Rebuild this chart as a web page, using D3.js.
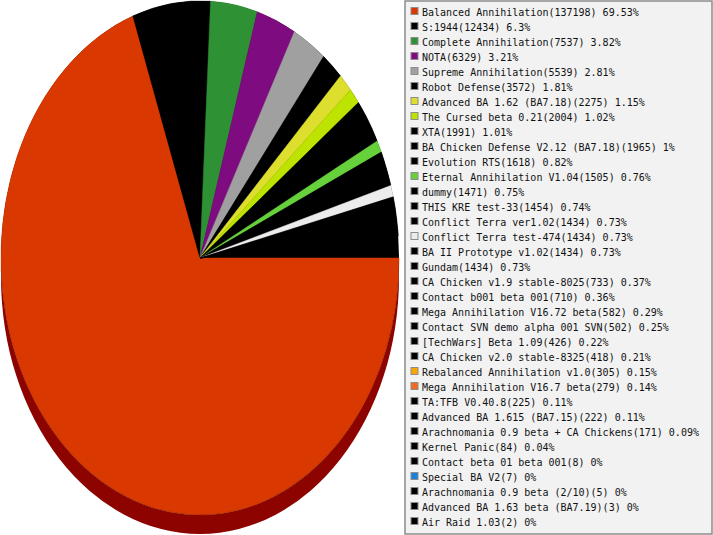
<!DOCTYPE html>
<html>
<head>
<meta charset="utf-8">
<script src="https://cdn.jsdelivr.net/npm/d3@7"></script>
<style>
  body { margin: 0; background: #fff; }
  svg { display: block; }
</style>
</head>
<body>
<div class="graph"></div>
<script>
// games and how many times each was played
const games = [
    "Balanced Annihilation", "S:1944", "Complete Annihilation", "NOTA",
    "Supreme Annihilation", "Robot Defense", "Advanced BA 1.62 (BA7.18)",
    "The Cursed beta 0.21", "XTA", "BA Chicken Defense V2.12 (BA7.18)",
    "Evolution RTS", "Eternal Annihilation V1.04", "dummy", "THIS KRE test-33",
    "Conflict Terra ver1.02", "Conflict Terra test-474", "BA II Prototype v1.02",
    "Gundam", "CA Chicken v1.9 stable-8025", "Contact b001 beta 001",
    "Mega Annihilation V16.72 beta", "Contact SVN demo alpha 001 SVN",
    "[TechWars] Beta 1.09", "CA Chicken v2.0 stable-8325",
    "Rebalanced Annihilation v1.0", "Mega Annihilation V16.7 beta",
    "TA:TFB V0.40.8", "Advanced BA 1.615 (BA7.15)",
    "Arachnomania 0.9 beta + CA Chickens", "Kernel Panic",
    "Contact beta 01 beta 001", "Special BA V2", "Arachnomania 0.9 beta (2/10)",
    "Advanced BA 1.63 beta (BA7.19)", "Air Raid 1.03"
]
const counts = [
    137198, 12434, 7537, 6329, 5539, 3572, 2275, 2004, 1991, 1965,
    1618, 1505, 1471, 1454, 1434, 1434, 1434, 1434, 733, 710,
    582, 502, 426, 418, 305, 279, 225, 222, 171, 84,
    8, 7, 5, 3, 2
]
const colors = [
    "#d93800", "#000000", "#2e9234", "#7e0b80", "#a0a0a0", "#000000", "#dede2e",
    "#bde300", "#000000", "#000000", "#000000", "#66d13b", "#000000", "#000000",
    "#000000", "#ececec", "#000000", "#000000", "#000000", "#000000", "#000000",
    "#000000", "#000000", "#000000", "#f9a602", "#f26a1f", "#000000", "#000000",
    "#000000", "#000000", "#000000", "#1b80d8", "#000000", "#000000", "#000000"
]

function drawPieChart() {
    var svg = d3.select(".graph").append("svg").attr("width", 713).attr("height", 535)

    const cx = 200, cy = 258
    const rx = 199, ry = 257
    const depth = 19
    // slices thinner than a degree are not painted, the dark base shows through
    const minAngle = Math.PI / 180

    const data = games.map((g, i) => ({ name: g, value: counts[i], color: colors[i] }))
    const total = d3.sum(counts)

    // start at 3 o'clock and go clockwise
    const pie = d3.pie().sort(null).value(d => d.value)
        .startAngle(Math.PI / 2).endAngle(Math.PI / 2 + 2 * Math.PI)
    const arcs = pie(data)

    const pt = (a, dy) => [cx + rx * Math.sin(a), cy - ry * Math.cos(a) + (dy || 0)]
    const shade = c => { var k = d3.rgb(c); return d3.rgb(k.r * 0.65, k.g * 0.05, k.b * 0.05) }

    // side wall, only the front half (east -> south -> west) shows
    const frontStart = Math.PI / 2, frontEnd = 3 * Math.PI / 2
    var side = svg.append("g")
    arcs.forEach(d => {
        const a0 = Math.max(d.startAngle, frontStart)
        const a1 = Math.min(d.endAngle, frontEnd)
        if (a1 <= a0) return
        const p0 = pt(a0), p1 = pt(a1), q1 = pt(a1, depth), q0 = pt(a0, depth)
        const large = (a1 - a0) > Math.PI ? 1 : 0
        const path = "M" + p0 + "A" + rx + "," + ry + " 0 " + large + " 1 " + p1 +
            "L" + q1 + "A" + rx + "," + ry + " 0 " + large + " 0 " + q0 + "Z"
        side.append("path")
            .attr("d", path)
            .attr("fill", shade(d.data.color))
    })

    // top face, unit circle squashed into the ellipse
    var top = svg.append("g")
        .attr("transform", "translate(" + cx + "," + cy + ") scale(" + rx + "," + ry + ")")
    top.append("ellipse")
        .attr("rx", 1).attr("ry", 1)
        .attr("fill", "#000")

    const arc = d3.arc().innerRadius(0).outerRadius(1)
    top.selectAll("path")
        .data(arcs.filter(d => d.endAngle - d.startAngle >= minAngle))
        .join("path")
        .attr("d", arc)
        .attr("fill", d => d.data.color)
        .attr("stroke", d => d.data.color)
        .attr("stroke-width", 0.5)
        .attr("vector-effect", "non-scaling-stroke")

    // legend
    const lx = 405, ly = 1
    var legend = svg.append("g")
    legend.append("rect")
        .attr("x", lx).attr("y", ly)
        .attr("width", 307).attr("height", 533)
        .attr("fill", "#f2f2f2")
        .attr("stroke", "#8c8c8c")
        .attr("stroke-width", 1.5)

    const rowY = d3.scaleLinear().domain([0, 1]).range([16, 31])
    const fmt = v => String(+(v / total * 100).toFixed(2))

    var rows = legend.selectAll("g.row")
        .data(data)
        .join("g")
        .attr("class", "row")
        .attr("transform", (d, i) => "translate(0," + rowY(i) + ")")

    rows.append("rect")
        .attr("x", 411).attr("y", -8.5)
        .attr("width", 7).attr("height", 7)
        .attr("fill", d => d.color)
        .attr("stroke", "#8c8c8c")
        .attr("stroke-width", 1)

    rows.append("text")
        .attr("x", 422)
        .attr("y", 0)
        .attr("font-family", "DejaVu Sans Mono")
        .attr("font-size", "10px")
        .attr("fill", "#111")
        .text(d => d.name + "(" + d.value + ") " + fmt(d.value) + "%")
}
drawPieChart()
</script>
</body>
</html>
